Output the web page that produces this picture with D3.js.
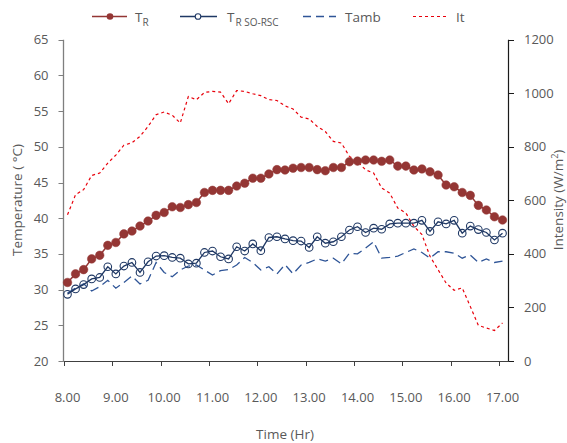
<!DOCTYPE html>
<html><head><meta charset="utf-8">
<script src="https://cdn.jsdelivr.net/npm/d3@7/dist/d3.min.js"></script>
<style>
html,body{margin:0;padding:0;background:#fff;}
text{font-family:"Open Sans","Noto Sans",sans-serif;}
</style></head>
<body><svg id="c" width="567" height="443"></svg>
<script>
// ---- data ----
const startHour = 8, stepHour = 1/6; // 10-minute readings 8.00 .. 17.00
const TR = [31.0,32.2,32.8,34.3,34.8,36.2,36.6,37.8,38.2,38.9,39.6,40.4,40.8,41.6,
  41.5,41.9,42.2,43.6,43.9,43.9,43.9,44.5,44.9,45.6,45.6,46.2,46.8,46.75,
  47.0,47.1,47.1,46.8,46.65,47.1,47.1,47.9,48.0,48.15,48.15,47.97,48.15,
  47.3,47.3,46.75,46.9,46.5,46.05,44.65,44.4,43.6,43.2,41.8,41.15,40.2,39.75];
const TSO = [29.34,30.1,30.7,31.5,31.7,33.2,32.2,33.3,33.8,32.4,33.9,34.7,34.75,34.5,
  34.4,33.6,33.7,35.2,35.4,34.6,34.3,36.0,35.4,36.4,35.45,37.3,37.4,37.1,
  36.85,36.8,35.9,37.4,36.5,36.7,37.4,38.35,38.8,38.0,38.6,38.45,39.2,
  39.3,39.3,39.3,39.7,38.15,39.5,39.2,39.7,37.9,38.9,38.4,38.0,36.95,37.9];
const Tamb = [29.5,30.2,30.8,29.8,30.4,31.3,30.2,31.0,31.9,30.8,31.3,33.8,32.4,31.8,
  32.75,33.3,33.45,32.75,32.05,32.65,32.8,33.45,34.5,33.8,32.75,33.2,32.2,33.5,
  32.2,33.45,33.8,34.3,34.0,34.4,33.6,35.1,35.0,35.8,36.7,34.4,34.5,
  34.7,35.2,35.7,35.2,34.4,35.3,35.3,35.1,34.4,34.85,33.8,34.3,33.8,34.0];
const It = [546,621,640,693,702,739,769,806,815,839,876,920,930,918,
  889,988,976,1003,1007,1004,961,1010,1007,998,991,976,973,953,
  941,911,904,876,857,820,814,764,745,714,702,646,627,
  571,553,503,472,391,341,291,264,273,204,133,123,114,142];
const xTicks = [8,9,10,11,12,13,14,15,16,17];
const xTickLabels = ["8.00","9.00","10.00","11.00","12.00","13.00","14.00","15.00","16.00","17.00"];
const yLeftTicks = [20,25,30,35,40,45,50,55,60,65];
const yRightTicks = [0,200,400,600,800,1000,1200];
const hours = TR.map((d,i)=>startHour + i*stepHour);

// ---- layout ----
const svg = d3.select("#c");
const x = d3.scaleLinear().domain([8,17]).range([67.5,502.5]);
const yL = d3.scaleLinear().domain([20,65]).range([361,39.7]);
const yR = d3.scaleLinear().domain([0,1200]).range([361,39.7]);
const grey = "#595959";

// axes
svg.append("line").attr("x1",63.5).attr("x2",508.5).attr("y1",361.5).attr("y2",361.5)
  .attr("stroke","#404040").attr("stroke-width",1);
xTicks.forEach((t,i)=>{
  const px = Math.round(x(t)-3.5)+0.5;
  svg.append("line").attr("x1",px).attr("x2",px).attr("y1",361.5).attr("y2",366)
    .attr("stroke","#404040");
  svg.append("text").attr("x",x(t)).attr("y",402).attr("text-anchor","middle")
    .attr("font-size",13).attr("fill",grey).text(xTickLabels[i]);
});
svg.append("line").attr("x1",63.5).attr("x2",63.5).attr("y1",39.7).attr("y2",361.5)
  .attr("stroke","#7f7f7f").attr("stroke-width",1.3);
yLeftTicks.forEach(t=>{
  const py = Math.round(yL(t))+0.5;
  svg.append("line").attr("x1",58.5).attr("x2",63.5).attr("y1",py).attr("y2",py).attr("stroke","#7f7f7f");
  svg.append("text").attr("x",48.5).attr("y",yL(t)+4.5).attr("text-anchor","end")
    .attr("font-size",13).attr("fill",grey).text(t);
});
svg.append("line").attr("x1",508.5).attr("x2",508.5).attr("y1",39.7).attr("y2",361.5)
  .attr("stroke","#1a1a1a").attr("stroke-width",1.2);
yRightTicks.forEach(t=>{
  const py = Math.round(yR(t))+0.5;
  svg.append("line").attr("x1",508.5).attr("x2",514).attr("y1",py).attr("y2",py).attr("stroke","#1a1a1a");
  svg.append("text").attr("x",524).attr("y",yR(t)+4.5).attr("text-anchor","start")
    .attr("font-size",13).attr("fill",grey).text(t);
});
svg.append("text").attr("transform","translate(22,200) rotate(-90)").attr("text-anchor","middle")
  .attr("font-size",13.5).attr("fill",grey).text("Temperature ( °C)");
const rt = svg.append("text").attr("transform","translate(563,200) rotate(-90)").attr("text-anchor","middle")
  .attr("font-size",13.5).attr("fill",grey);
rt.append("tspan").text("Intensity (W/m");
rt.append("tspan").attr("font-size",9).attr("dy",-5).text("2");
rt.append("tspan").attr("dy",5).text(")");
svg.append("text").attr("x",285).attr("y",439).attr("text-anchor","middle")
  .attr("font-size",13.5).attr("fill",grey).text("Time (Hr)");

// ---- series ----
const colTR = "#943634", colTSO = "#1f3864", colTamb = "#2f5597", colIt = "#e8000b";
const lineL = d3.line().x((d,i)=>x(hours[i])).y(d=>yL(d));
const lineR = d3.line().x((d,i)=>x(hours[i])).y(d=>yR(d));

svg.append("path").datum(It).attr("d",lineR).attr("fill","none").attr("stroke",colIt)
  .attr("stroke-width",1.2).attr("stroke-dasharray","3,3");
svg.append("path").datum(Tamb).attr("d",lineL).attr("fill","none").attr("stroke",colTamb)
  .attr("stroke-width",1.3).attr("stroke-dasharray","9,5");
svg.append("path").datum(TSO).attr("d",lineL).attr("fill","none").attr("stroke",colTSO)
  .attr("stroke-width",1.3);
svg.append("g").selectAll("circle").data(TSO).join("circle")
  .attr("cx",(d,i)=>x(hours[i])).attr("cy",d=>yL(d)).attr("r",3.8)
  .attr("fill","none").attr("stroke",colTSO).attr("stroke-width",1.1);
svg.append("path").datum(TR).attr("d",lineL).attr("fill","none").attr("stroke",colTR)
  .attr("stroke-width",1.5);
svg.append("g").selectAll("circle").data(TR).join("circle")
  .attr("cx",(d,i)=>x(hours[i])).attr("cy",d=>yL(d)).attr("r",4.3)
  .attr("fill",colTR).attr("stroke",colTR).attr("stroke-width",0.5);

// ---- legend ----
const ly = 16.5;
const lg = svg.append("g");
lg.append("line").attr("x1",92).attr("x2",127).attr("y1",ly).attr("y2",ly).attr("stroke",colTR).attr("stroke-width",1.5);
lg.append("circle").attr("cx",110).attr("cy",ly).attr("r",3.3).attr("fill",colTR);
let t1 = lg.append("text").attr("x",135).attr("y",ly+5).attr("font-size",13.5).attr("fill",grey);
t1.append("tspan").text("T");
t1.append("tspan").attr("font-size",10).attr("dy",4).text("R");
lg.append("line").attr("x1",180).attr("x2",217).attr("y1",ly).attr("y2",ly).attr("stroke",colTSO).attr("stroke-width",1.3);
lg.append("circle").attr("cx",198).attr("cy",ly).attr("r",2.8).attr("fill","#fff").attr("stroke",colTSO).attr("stroke-width",1.1);
let t2 = lg.append("text").attr("x",227).attr("y",ly+5).attr("font-size",13.5).attr("fill",grey);
t2.append("tspan").text("T");
t2.append("tspan").attr("font-size",10).attr("dy",4).attr("dx",1).text("R SO-RSC");
lg.append("line").attr("x1",303).attr("x2",336).attr("y1",ly).attr("y2",ly).attr("stroke",colTamb)
  .attr("stroke-width",1.3).attr("stroke-dasharray","8,5");
lg.append("text").attr("x",345).attr("y",ly+5).attr("font-size",13.5).attr("fill",grey).text("Tamb");
lg.append("line").attr("x1",413).attr("x2",449).attr("y1",ly).attr("y2",ly).attr("stroke",colIt)
  .attr("stroke-width",1.2).attr("stroke-dasharray","3,3");
lg.append("text").attr("x",456).attr("y",ly+5).attr("font-size",13.5).attr("fill",grey).text("It");
</script>
</body></html>
